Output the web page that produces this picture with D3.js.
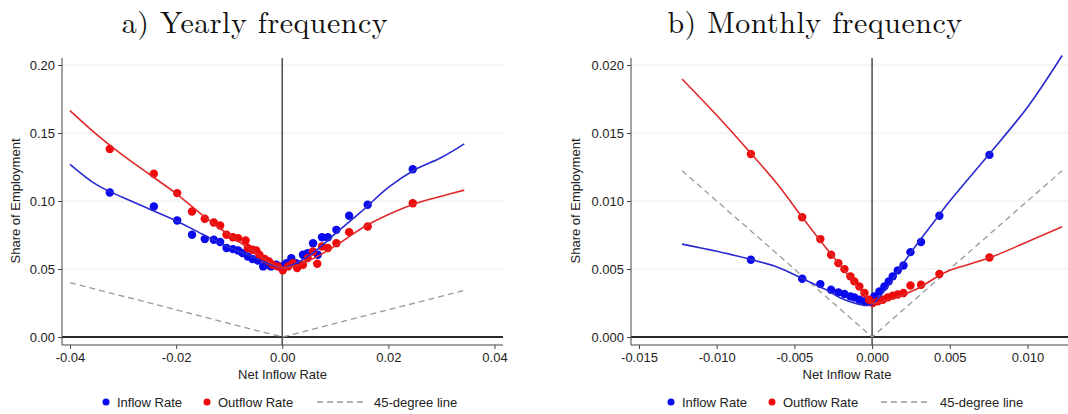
<!DOCTYPE html>
<html>
<head>
<meta charset="utf-8">
<script src="https://cdn.jsdelivr.net/npm/d3@7"></script>
<style>
  html, body { margin: 0; padding: 0; background: #fff; }
  svg { display: block; }
  .tick text { font-family: "Liberation Sans", Arial, sans-serif; }
</style>
</head>
<body>
<svg id="chart" width="1068" height="414"></svg>
<script>
// ---- Panel a: yearly frequency ----
const yearlyInflowX = [-0.0325, -0.0242, -0.0198, -0.0170, -0.0146, -0.0129, -0.0117, -0.0105, -0.0093, -0.0083,
  -0.0075, -0.0065, -0.0056, -0.0046, -0.0036, -0.0030, -0.0021, -0.0011, -0.0002, 0.0008,
  0.0017, 0.0026, 0.0039, 0.0048, 0.0058, 0.0067, 0.0075, 0.0086, 0.0102, 0.0126, 0.0161, 0.0246];
const yearlyInflowY = [0.1062, 0.0960, 0.0857, 0.0752, 0.0720, 0.0715, 0.0698, 0.0654, 0.0646, 0.0636,
  0.0617, 0.0592, 0.0573, 0.0563, 0.0519, 0.0531, 0.0519, 0.0531, 0.0519, 0.0543,
  0.0580, 0.0543, 0.0605, 0.0617, 0.0690, 0.0605, 0.0734, 0.0734, 0.0788, 0.0891, 0.0972, 0.1234];
const yearlyOutflowX = [-0.0325, -0.0242, -0.0198, -0.0170, -0.0146, -0.0129, -0.0117, -0.0105, -0.0093, -0.0083,
  -0.0069, -0.0065, -0.0056, -0.0049, -0.0043, -0.0033, -0.0025, -0.0018, -0.0008, 0.0001,
  0.0011, 0.0020, 0.0028, 0.0039, 0.0048, 0.0058, 0.0066, 0.0075, 0.0086, 0.0102, 0.0126, 0.0161, 0.0246];
const yearlyOutflowY = [0.1383, 0.1200, 0.1058, 0.0923, 0.0869, 0.0842, 0.0820, 0.0752, 0.0734, 0.0727,
  0.0710, 0.0654, 0.0641, 0.0636, 0.0605, 0.0573, 0.0556, 0.0531, 0.0519, 0.0490,
  0.0519, 0.0543, 0.0507, 0.0531, 0.0580, 0.0629, 0.0539, 0.0666, 0.0654, 0.0690, 0.0771, 0.0813, 0.0984];
// smoothed fits
const yearlyFitX = [-0.040, -0.035, -0.030, -0.025, -0.020, -0.015, -0.010, -0.005, -0.002, 0.000,
  0.003, 0.006, 0.010, 0.015, 0.020, 0.025, 0.030, 0.0343];
const yearlyInflowFit = [0.127, 0.112, 0.1025, 0.094, 0.0855, 0.0755, 0.066, 0.058, 0.053, 0.051,
  0.055, 0.0625, 0.076, 0.0925, 0.110, 0.123, 0.132, 0.142];
const yearlyOutflowFit = [0.1665, 0.149, 0.1335, 0.1195, 0.1055, 0.0895, 0.075, 0.062, 0.054, 0.051,
  0.053, 0.058, 0.067, 0.080, 0.090, 0.098, 0.1035, 0.108];
const yearlyDiagX = [-0.040, 0.000, 0.0343];
const yearlyXTicks = [-0.04, -0.02, 0.00, 0.02, 0.04];
const yearlyYTicks = [0.00, 0.05, 0.10, 0.15, 0.20];

// ---- Panel b: monthly frequency ----
const monthlyInflowX = [-0.0078, -0.0045, -0.00333, -0.00264, -0.00217, -0.00178, -0.0014, -0.00114, -0.00082, -0.00049,
  -0.0002, 0.00015, 0.00047, 0.00079, 0.00107, 0.00133, 0.00165, 0.00202, 0.00247, 0.00315, 0.00433, 0.00755];
const monthlyInflowY = [0.00568, 0.00428, 0.00389, 0.00348, 0.00328, 0.00316, 0.00299, 0.00291, 0.00274, 0.00262,
  0.00262, 0.00299, 0.00335, 0.00372, 0.00409, 0.00446, 0.00490, 0.00526, 0.00624, 0.00698, 0.00891, 0.01339];
const monthlyOutflowX = [-0.0078, -0.0045, -0.00333, -0.00264, -0.00217, -0.00178, -0.0014, -0.00114, -0.00082, -0.00049,
  -0.0002, 0.00004, 0.00036, 0.00069, 0.0010, 0.00133, 0.00165, 0.00202, 0.00247, 0.00315, 0.00433, 0.00755];
const monthlyOutflowY = [0.01346, 0.00881, 0.00720, 0.00605, 0.00543, 0.00499, 0.00446, 0.00409, 0.00372, 0.00323,
  0.00274, 0.00250, 0.00262, 0.00274, 0.00291, 0.00304, 0.00313, 0.00323, 0.00379, 0.00384, 0.00463, 0.00585];
const monthlyFitX = [-0.01223, -0.010, -0.0078, -0.006, -0.0045, -0.003, -0.002, -0.001, -0.0004, 0.000,
  0.001, 0.002, 0.003, 0.004, 0.005, 0.0075, 0.010, 0.01223];
const monthlyInflowFit = [0.00683, 0.0063, 0.0057, 0.0051, 0.0043, 0.0035, 0.00285, 0.00245, 0.00232, 0.0024,
  0.0037, 0.0054, 0.0070, 0.0085, 0.0100, 0.0134, 0.0169, 0.0207];
const monthlyOutflowFit = [0.01897, 0.0163, 0.0135, 0.0111, 0.0088, 0.0066, 0.0052, 0.0038, 0.0030, 0.0025,
  0.0027, 0.0031, 0.0036, 0.0043, 0.0049, 0.0058, 0.0070, 0.0081];
const monthlyDiagX = [-0.01223, 0.000, 0.01223];
const monthlyXTicks = [-0.015, -0.010, -0.005, 0.000, 0.005, 0.010];
const monthlyYTicks = [0.000, 0.005, 0.010, 0.015, 0.020];

const legendLabels = ["Inflow Rate", "Outflow Rate", "45-degree line"];

const BLUE_DOT = "#0a0aee", RED_DOT = "#ee0a0a";
const BLUE_LINE = "#2a2ad2", RED_LINE = "#e02a2a";
const SANS = '"Liberation Sans", Arial, sans-serif';
const SERIF = '"Latin Modern Roman", "Liberation Serif", serif';

const svg = d3.select("#chart");

// fixed decimals with a plain hyphen for negatives
const fmt = spec => { const f = d3.format(spec); return d => f(d).replace("\u2212", "-"); };

function panel(cfg) {
  const g = svg.append("g");
  const x = d3.scaleLinear().domain(cfg.xDomain).range(cfg.xRange);
  const y = d3.scaleLinear().domain(cfg.yDomain).range([337, 65]);
  const axisLeft = cfg.axisLeft, axisRight = cfg.axisRight;
  const top = 58, axisY = 345;

  // title
  g.append("text").attr("x", cfg.titleX).attr("y", 33)
    .attr("text-anchor", "middle")
    .style("font-family", SERIF).style("font-size", "30px").style("letter-spacing", "0.5px")
    .style("fill", "#111")
    .text(cfg.title);

  // horizontal grid
  g.selectAll(".grid").data(cfg.yTicks.filter(d => d !== 0)).join("line")
    .attr("x1", axisLeft).attr("x2", axisRight)
    .attr("y1", d => y(d)).attr("y2", d => y(d))
    .attr("stroke", "#ececec").attr("stroke-width", 1);

  // reference lines at zero
  g.append("line").attr("x1", axisLeft).attr("x2", axisRight)
    .attr("y1", y(0)).attr("y2", y(0))
    .attr("stroke", "#2a2a2a").attr("stroke-width", 2);
  g.append("line").attr("x1", x(0)).attr("x2", x(0))
    .attr("y1", top).attr("y2", axisY)
    .attr("stroke", "#555").attr("stroke-width", 1.6);

  // axes
  const xAxis = d3.axisBottom(x).tickValues(cfg.xTicks).tickSize(4).tickSizeOuter(0)
    .tickFormat(fmt(cfg.xFormat));
  const gx = g.append("g").attr("transform", `translate(0,${axisY})`).call(xAxis);
  gx.select(".domain").remove();
  gx.append("line").attr("x1", axisLeft).attr("x2", axisRight).attr("y1", 0).attr("y2", 0)
    .attr("stroke", "#444").attr("stroke-width", 1);
  gx.selectAll(".tick line").attr("stroke", "#444");
  gx.selectAll(".tick text").attr("y", 8).style("font-size", "13px").style("fill", "#222");

  const yAxis = d3.axisLeft(y).tickValues(cfg.yTicks).tickSize(4).tickSizeOuter(0)
    .tickFormat(fmt(cfg.yFormat));
  const gy = g.append("g").attr("transform", `translate(${axisLeft},0)`).call(yAxis);
  gy.select(".domain").remove();
  gy.append("line").attr("x1", 0).attr("x2", 0).attr("y1", top).attr("y2", axisY)
    .attr("stroke", "#444").attr("stroke-width", 1);
  gy.selectAll(".tick line").attr("stroke", "#444");
  gy.selectAll(".tick text").attr("x", -7).style("font-size", "13px").style("fill", "#222");

  // axis titles
  g.append("text").attr("x", (axisLeft + cfg.axisTitleRight) / 2).attr("y", 379)
    .attr("text-anchor", "middle")
    .style("font-family", SANS).style("font-size", "13px").style("fill", "#222")
    .text("Net Inflow Rate");
  g.append("text")
    .attr("transform", `translate(${cfg.yTitleX},201) rotate(-90)`)
    .attr("text-anchor", "middle")
    .style("font-family", SANS).style("font-size", "13px").style("fill", "#222")
    .text("Share of Employment");

  // 45-degree line
  const diag = d3.line().x(d => x(d)).y(d => y(Math.abs(d)));
  g.append("path").attr("d", diag(cfg.diagX))
    .attr("fill", "none").attr("stroke", "#999").attr("stroke-width", 1.3)
    .attr("stroke-dasharray", "6,4");

  // scatter points
  const dots = (xs, ys, color) => g.append("g").selectAll("circle")
    .data(xs.map((v, i) => [v, ys[i]])).join("circle")
    .attr("cx", d => x(d[0])).attr("cy", d => y(d[1])).attr("r", 4.2)
    .attr("fill", color);
  dots(cfg.inX, cfg.inY, BLUE_DOT);
  dots(cfg.outX, cfg.outY, RED_DOT);

  // smoothed fits
  const fit = d3.line().x(d => x(d[0])).y(d => y(d[1])).curve(d3.curveCatmullRom.alpha(0.5));
  g.append("path").attr("d", fit(cfg.fitX.map((v, i) => [v, cfg.inFit[i]])))
    .attr("fill", "none").attr("stroke", BLUE_LINE).attr("stroke-width", 1.6);
  g.append("path").attr("d", fit(cfg.fitX.map((v, i) => [v, cfg.outFit[i]])))
    .attr("fill", "none").attr("stroke", RED_LINE).attr("stroke-width", 1.6);

  // legend
  const L = cfg.legend, ly = 402;
  g.append("circle").attr("cx", L[0]).attr("cy", ly).attr("r", 3.5).attr("fill", BLUE_DOT);
  g.append("circle").attr("cx", L[2]).attr("cy", ly).attr("r", 3.5).attr("fill", RED_DOT);
  g.append("line").attr("x1", L[4]).attr("x2", L[5]).attr("y1", ly).attr("y2", ly)
    .attr("stroke", "#999").attr("stroke-width", 1.3).attr("stroke-dasharray", "6,4");
  [[L[1], legendLabels[0]], [L[3], legendLabels[1]], [L[6], legendLabels[2]]].forEach(([lx, t]) => {
    g.append("text").attr("x", lx).attr("y", ly + 5)
      .style("font-family", SANS).style("font-size", "13px").style("fill", "#222").text(t);
  });
}

panel({
  title: "a) Yearly frequency", titleX: 255,
  xDomain: [-0.04, 0.04], xRange: [70, 494.5], yDomain: [0, 0.20],
  axisLeft: 62, axisRight: 503, axisTitleRight: 503, yTitleX: 20,
  xTicks: yearlyXTicks, yTicks: yearlyYTicks, xFormat: ".2f", yFormat: ".2f",
  inX: yearlyInflowX, inY: yearlyInflowY, outX: yearlyOutflowX, outY: yearlyOutflowY,
  fitX: yearlyFitX, inFit: yearlyInflowFit, outFit: yearlyOutflowFit, diagX: yearlyDiagX,
  legend: [106, 117, 207, 218, 317, 367, 374]
});

panel({
  title: "b) Monthly frequency", titleX: 815,
  xDomain: [-0.015, 0.010], xRange: [639, 1027.5], yDomain: [0, 0.020],
  axisLeft: 631, axisRight: 1090, axisTitleRight: 1063, yTitleX: 580,
  xTicks: monthlyXTicks, yTicks: monthlyYTicks, xFormat: ".3f", yFormat: ".3f",
  inX: monthlyInflowX, inY: monthlyInflowY, outX: monthlyOutflowX, outY: monthlyOutflowY,
  fitX: monthlyFitX, inFit: monthlyInflowFit, outFit: monthlyOutflowFit, diagX: monthlyDiagX,
  legend: [671, 682, 772, 783, 881, 931, 940]
});
</script>
</body>
</html>
